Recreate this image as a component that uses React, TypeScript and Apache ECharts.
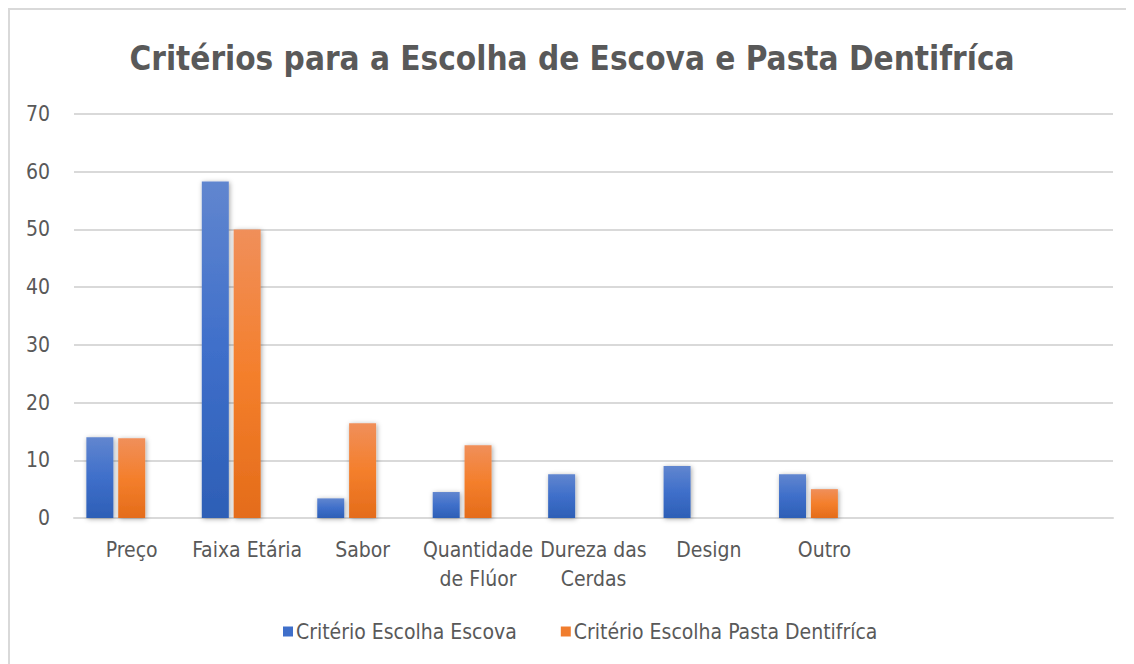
import React, { useEffect, useRef } from "react";
import * as echarts from "echarts";

const categories = ["Preço", "Faixa Etária", "Sabor", "Quantidade\nde Flúor", "Dureza das\nCerdas", "Design", "Outro", "", ""];
const escova = [14.0, 58.3, 3.4, 4.5, 7.6, 9.0, 7.6, null, null];
const pasta = [13.8, 50.0, 16.4, 12.6, null, null, 5.0, null, null];
const empty = [null, null, null, null, null, null, null, null, null];
const yTicks = { min: 0, max: 70, interval: 10 };

const FONT = "'DejaVu Sans Condensed', 'Liberation Sans Narrow', sans-serif";

export default function App() {
  const ref = useRef<HTMLDivElement>(null);
  useEffect(() => {
    if (!ref.current) return;
    document.body.style.marginBottom = "0px";
    const chart = echarts.init(ref.current, null, { renderer: "svg" });
    const blue = new echarts.graphic.LinearGradient(0, 0, 0, 1, [
      { offset: 0, color: "#6186cf" },
      { offset: 0.5, color: "#3f6fca" },
      { offset: 1, color: "#2d5fb6" },
    ]);
    const orange = new echarts.graphic.LinearGradient(0, 0, 0, 1, [
      { offset: 0, color: "#f08f5a" },
      { offset: 0.5, color: "#f47f2c" },
      { offset: 1, color: "#e46c1a" },
    ]);
    const shadow = { shadowBlur: 5, shadowColor: "rgba(0,0,0,0.35)", shadowOffsetX: 1, shadowOffsetY: 1 };
    chart.setOption({
      animation: false,
      textStyle: { fontFamily: FONT },
      title: {
        text: "Critérios para a Escolha de Escova e Pasta Dentifríca",
        left: "center",
        top: 27,
        textStyle: { fontFamily: FONT, fontSize: 33, fontWeight: "bold", color: "#595959" },
      },
      legend: {
        data: [
          { name: "Critério Escolha Escova", itemStyle: { color: "#3f6fca" } },
          { name: "Critério Escolha Pasta Dentifríca", itemStyle: { color: "#f07d2e" } },
        ],
        left: 268,
        top: 606,
        icon: "rect",
        itemWidth: 10,
        itemHeight: 10,
        itemGap: 44,
        textStyle: { fontFamily: FONT, fontSize: 21, color: "#595959", padding: [0, 0, 0, -2] },
      },
      grid: { left: 64, right: 21, top: 104, bottom: 146 },
      xAxis: {
        type: "category",
        data: categories,
        axisLine: { lineStyle: { color: "#d9d9d9", width: 2 } },
        axisTick: { show: false },
        axisLabel: { color: "#595959", fontSize: 21, fontFamily: FONT, margin: 17, lineHeight: 29, interval: 0 },
      },
      yAxis: {
        type: "value",
        min: yTicks.min,
        max: yTicks.max,
        interval: yTicks.interval,
        axisLine: { show: false },
        axisTick: { show: false },
        splitLine: { lineStyle: { color: "#d9d9d9", width: 2 } },
        axisLabel: { color: "#595959", fontSize: 21, fontFamily: FONT, margin: 24 },
      },
      series: [
        { name: "Critério Escolha Escova", type: "bar", data: escova, barWidth: 27, barGap: "18%", itemStyle: { color: blue, ...shadow } },
        { name: "Critério Escolha Pasta Dentifríca", type: "bar", data: pasta, barWidth: 27, barGap: "18%", itemStyle: { color: orange, ...shadow } },
        { name: "vazio", type: "bar", data: empty, barWidth: 27, barGap: "18%" },
      ],
    });
    return () => chart.dispose();
  }, []);
  return (
    <div
      ref={ref}
      style={{ width: 1126, height: 656, boxSizing: "border-box", borderLeft: "2px solid #d9d9d9", borderTop: "2px solid #d9d9d9" }}
    />
  );
}
